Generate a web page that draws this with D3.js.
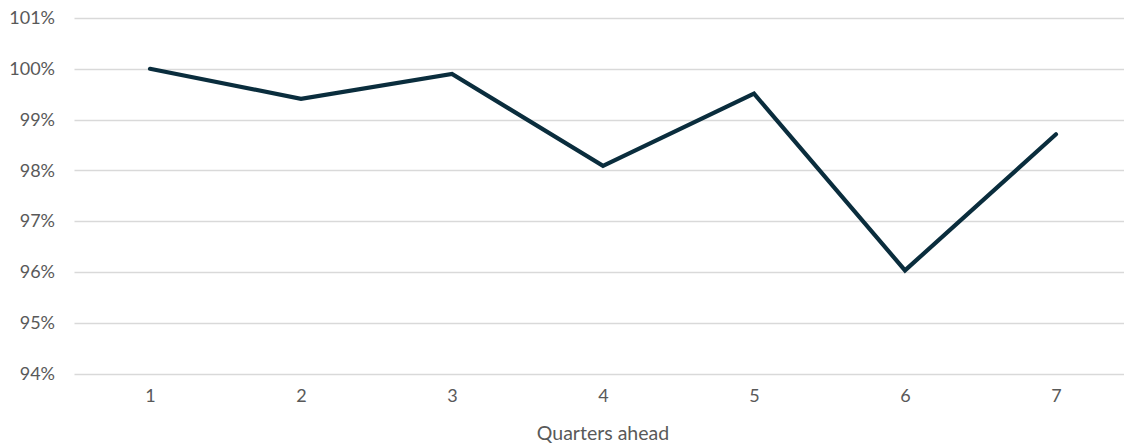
<!DOCTYPE html>
<html>
<head>
<meta charset="utf-8">
<script src="https://cdn.jsdelivr.net/npm/d3@7"></script>
<style>
  html, body { margin: 0; padding: 0; background: #fff; }
  svg text { font-family: Lato, "Open Sans", sans-serif; fill: #595959; font-size: 18px; }
  svg text.axis-title { font-size: 19.5px; }
</style>
</head>
<body>
<svg id="chart" width="1124" height="446"></svg>
<script>
// Quarters ahead and the corresponding ratio (%)
const quarters = [1, 2, 3, 4, 5, 6, 7];
const ratio = [100.0, 99.41, 99.9, 98.09, 99.51, 96.03, 98.71];
const yTicks = [94, 95, 96, 97, 98, 99, 100, 101];

const svg = d3.select("#chart");
const plotLeft = 74.5, plotRight = 1131.5, plotTop = 18, plotBottom = 373.5;

const x = d3.scalePoint().domain(quarters).range([plotLeft, plotRight]).padding(0.5);
const y = d3.scaleLinear().domain([94, 101]).range([plotBottom, plotTop]);

// horizontal gridlines
svg.append("g")
  .selectAll("line")
  .data(yTicks)
  .join("line")
  .attr("x1", plotLeft)
  .attr("x2", plotRight)
  .attr("y1", d => Math.round(y(d)) + 0.5)
  .attr("y2", d => Math.round(y(d)) + 0.5)
  .attr("stroke", "#d9d9d9")
  .attr("stroke-width", 1.3);

// y axis labels
const yAxis = d3.axisLeft(y).tickValues(yTicks).tickSize(0).tickPadding(0)
  .tickFormat(d => d + "%");
svg.append("g")
  .attr("transform", "translate(55,0)")
  .call(yAxis)
  .call(g => g.select(".domain").remove())
  .attr("font-size", null)
  .attr("font-family", null);

// x axis labels
const xAxis = d3.axisBottom(x).tickSize(0).tickPadding(0);
svg.append("g")
  .attr("transform", `translate(0,${plotBottom + 16})`)
  .call(xAxis)
  .call(g => g.select(".domain").remove())
  .attr("font-size", null)
  .attr("font-family", null);

// x axis title
svg.append("text")
  .attr("class", "axis-title")
  .attr("x", 603)
  .attr("y", 440)
  .attr("text-anchor", "middle")
  .text("Quarters ahead");

// data line
const line = d3.line()
  .x((d, i) => x(quarters[i]))
  .y(d => y(d));

svg.append("path")
  .datum(ratio)
  .attr("d", line)
  .attr("fill", "none")
  .attr("stroke", "#0a2d3d")
  .attr("stroke-width", 4.2)
  .attr("stroke-linejoin", "miter")
  .attr("stroke-linecap", "round");
</script>
</body>
</html>
